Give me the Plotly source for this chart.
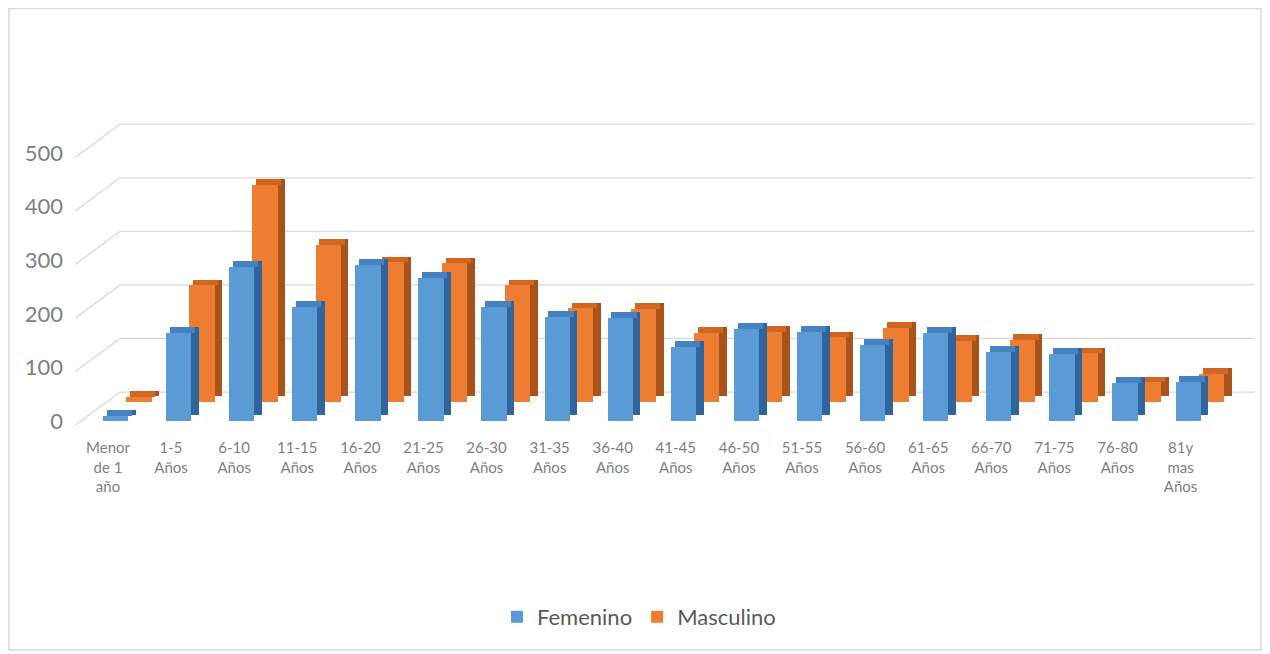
"""Población por grupo de edad y sexo - columnas agrupadas con efecto 3D."""

import plotly.graph_objects as go

categories = [
    "Menor<br>de 1<br>año", "1-5<br>Años", "6-10<br>Años", "11-15<br>Años",
    "16-20<br>Años", "21-25<br>Años", "26-30<br>Años", "31-35<br>Años",
    "36-40<br>Años", "41-45<br>Años", "46-50<br>Años", "51-55<br>Años",
    "56-60<br>Años", "61-65<br>Años", "66-70<br>Años", "71-75<br>Años",
    "76-80<br>Años", "81y<br>mas<br>Años",
]
femenino = [9, 164, 287, 213, 291, 267, 213, 194, 192, 138, 172, 166, 142, 164, 129, 125, 71, 73]
masculino = [10, 218, 405, 293, 261, 259, 218, 175, 174, 129, 131, 121, 138, 114, 116, 91, 37, 52]
y_ticks = [0, 100, 200, 300, 400, 500]

# pseudo-3D look: the back series sits higher, each box gets a side and a top face
BACK_BASE = 35
DEPTH_X = 0.12
DEPTH_Y = 11
GRID_DEPTH = 54
BAR_W = 0.4
X_FRONT, X_BACK, X_END = -0.52, 0.19, 18.18

xs = list(range(len(categories)))

fig = go.Figure()


def add_box(values, base, offset, face, top, side, name, rank):
    # side face (darkest), shifted back and up
    fig.add_trace(go.Bar(
        x=xs, y=values, base=base + DEPTH_Y, offset=offset + DEPTH_X, width=BAR_W,
        marker=dict(color=side, line=dict(width=0)), showlegend=False, hoverinfo="skip",
    ))
    # top face
    fig.add_trace(go.Bar(
        x=xs, y=[DEPTH_Y] * len(values), base=[base + v for v in values],
        offset=offset + DEPTH_X / 2, width=BAR_W,
        marker=dict(color=top, line=dict(width=0)), showlegend=False, hoverinfo="skip",
    ))
    fig.add_trace(go.Bar(
        x=xs, y=values, base=base, offset=offset, width=BAR_W, name=name,
        marker=dict(color=face, line=dict(width=0)), legendrank=rank,
    ))


add_box(masculino, BACK_BASE, 0.29, "#ED7D31", "#D0661F", "#A9531A", "Masculino", 2)
add_box(femenino, 0, -0.08, "#5B9BD5", "#4682C2", "#30649C", "Femenino", 1)

# back-wall gridlines with the short slanted run to the front labels
for v in y_ticks:
    fig.add_shape(type="line", xref="x", yref="y", x0=X_FRONT, y0=v - 8, x1=X_BACK, y1=v + GRID_DEPTH,
                  line=dict(color="#D9D9D9", width=1.3), layer="below")
    fig.add_shape(type="line", xref="x", yref="y", x0=X_BACK, y0=v + GRID_DEPTH, x1=X_END, y1=v + GRID_DEPTH,
                  line=dict(color="#D9D9D9", width=1.3), layer="below")

# chart border
fig.add_shape(type="rect", xref="paper", yref="paper", x0=-0.0515, x1=1.005, y0=-0.7175, y1=1.365,
              line=dict(color="#D9D9D9", width=1.5), layer="below")

fig.update_xaxes(
    tickmode="array", tickvals=xs, ticktext=categories, range=[-0.602, X_END],
    showgrid=False, zeroline=False, showline=False, ticks="",
    tickfont=dict(family="Lato", size=15, color="#7F7F7F"), ticklabelstandoff=8, tickangle=0,
)
fig.update_yaxes(
    range=[-15, 560], tickmode="array", tickvals=y_ticks, showgrid=False, zeroline=False,
    showline=False, ticks="", tickfont=dict(family="Lato", size=22, color="#7F7F7F"),
    ticklabelstandoff=6,
)

# the page puts the plot 8px in from the corner, so the figure is sized for that
fig.update_layout(
    width=1262, height=646, barmode="overlay", bargap=0,
    plot_bgcolor="white", paper_bgcolor="white",
    margin=dict(l=62, r=15, t=113, b=225),
    legend=dict(orientation="h", xref="container", yref="container", x=0.5, xanchor="center",
                y=0.0573, yanchor="middle", font=dict(family="Lato", size=22, color="#595959"),
                traceorder="normal", itemwidth=30),
    font=dict(family="Lato"),
)

fig.write_html("out.html")
